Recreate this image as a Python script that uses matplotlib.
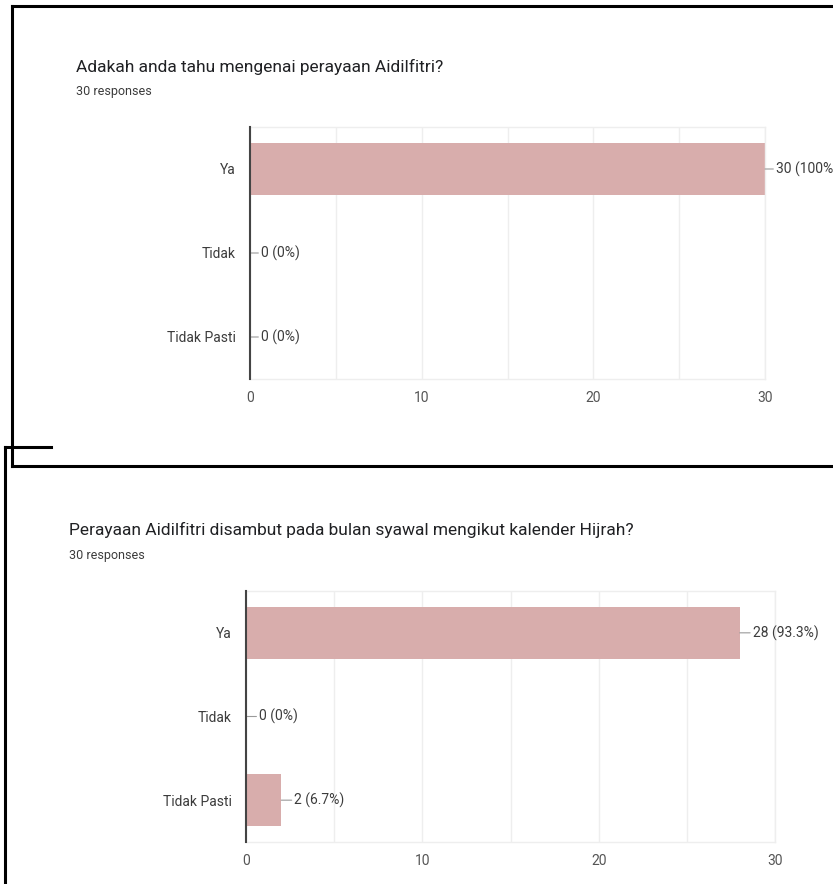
import matplotlib
matplotlib.use("Agg")
import matplotlib.pyplot as plt
from matplotlib.lines import Line2D

plt.rcParams['font.family'] = ['Roboto', 'DejaVu Sans']

# ---- data ----
categories = ["Ya", "Tidak", "Tidak Pasti"]
q1_title = "Adakah anda tahu mengenai perayaan Aidilfitri?"
q1_values = [30, 0, 0]
q1_labels = ["30 (100%)", "0 (0%)", "0 (0%)"]
q2_title = "Perayaan Aidilfitri disambut pada bulan syawal mengikut kalender Hijrah?"
q2_values = [28, 0, 2]
q2_labels = ["28 (93.3%)", "0 (0%)", "2 (6.7%)"]
responses_text = "30 responses"
major_ticks = [0, 10, 20, 30]
minor_ticks = [5, 15, 25]

W, H = 833, 884
fig = plt.figure(figsize=(W / 100, H / 100), dpi=100)
fig.patch.set_facecolor("white")

BAR = "#d8adac"
GRID = "#eeeeee"
TXT = "#3c3c3c"


def fx(px):
    return px / W


def fy(py):
    return 1 - py / H


def make_chart(left, right, top, bottom, values, labels, title, tx, ty, ry, off):
    ax = fig.add_axes([fx(left), fy(bottom), fx(right - left), (bottom - top) / H])
    y = list(range(len(categories)))
    ax.barh(y, values, height=0.62, color=BAR, zorder=2)
    ax.set_ylim(len(categories) - 0.5, -0.5)
    ax.set_xlim(0, 30)
    ax.set_yticks(y)
    ax.set_yticklabels(categories, fontsize=10, color=TXT)
    ax.set_xticks(major_ticks)
    ax.set_xticks(minor_ticks, minor=True)
    ax.set_xticklabels([str(t) for t in major_ticks], fontsize=10, color="#555555")
    ax.tick_params(axis="both", which="both", length=0)
    ax.tick_params(axis="y", pad=10)
    ax.tick_params(axis="x", pad=8.5)
    ax.grid(axis="x", which="both", color=GRID, lw=1, zorder=0)
    for s in ["top", "right", "bottom"]:
        ax.spines[s].set_color(GRID)
        ax.spines[s].set_linewidth(1)
    ax.spines["left"].set_color("#444444")
    ax.spines["left"].set_linewidth(1.5)
    ax.spines["left"].set_zorder(3)
    for i, (v, lab) in enumerate(zip(values, labels)):
        ax.annotate(lab, xy=(v, i), xytext=(off, 0), textcoords="offset points",
                    va="center", ha="left", fontsize=10, color=TXT,
                    annotation_clip=False,
                    arrowprops=dict(arrowstyle="-", color="#9a9a9a", lw=0.8,
                                    shrinkA=0, shrinkB=0))
    fig.text(fx(tx), fy(ty), title, fontsize=12.5, color="#202124", va="center", ha="left")
    fig.text(fx(tx), fy(ry), responses_text, fontsize=9, color=TXT, va="center", ha="left")
    return ax


make_chart(250, 765, 127, 379, q1_values, q1_labels, q1_title, 76, 67, 92, 8)
make_chart(246, 775, 591, 842, q2_values, q2_labels, q2_title, 69, 530, 556, 9.5)

# frame lines of the screenshot
lw = 2.2
fig.add_artist(Line2D([fx(12), fx(12)], [fy(6), fy(466)], color="black", lw=lw))
fig.add_artist(Line2D([fx(12), fx(833)], [fy(6), fy(6)], color="black", lw=lw))
fig.add_artist(Line2D([fx(12), fx(833)], [fy(466), fy(466)], color="black", lw=lw))
fig.add_artist(Line2D([fx(5), fx(5)], [fy(447), fy(884)], color="black", lw=lw))
fig.add_artist(Line2D([fx(5), fx(51)], [fy(447), fy(447)], color="black", lw=lw))

fig.savefig("out.png", dpi=100, facecolor="white")
